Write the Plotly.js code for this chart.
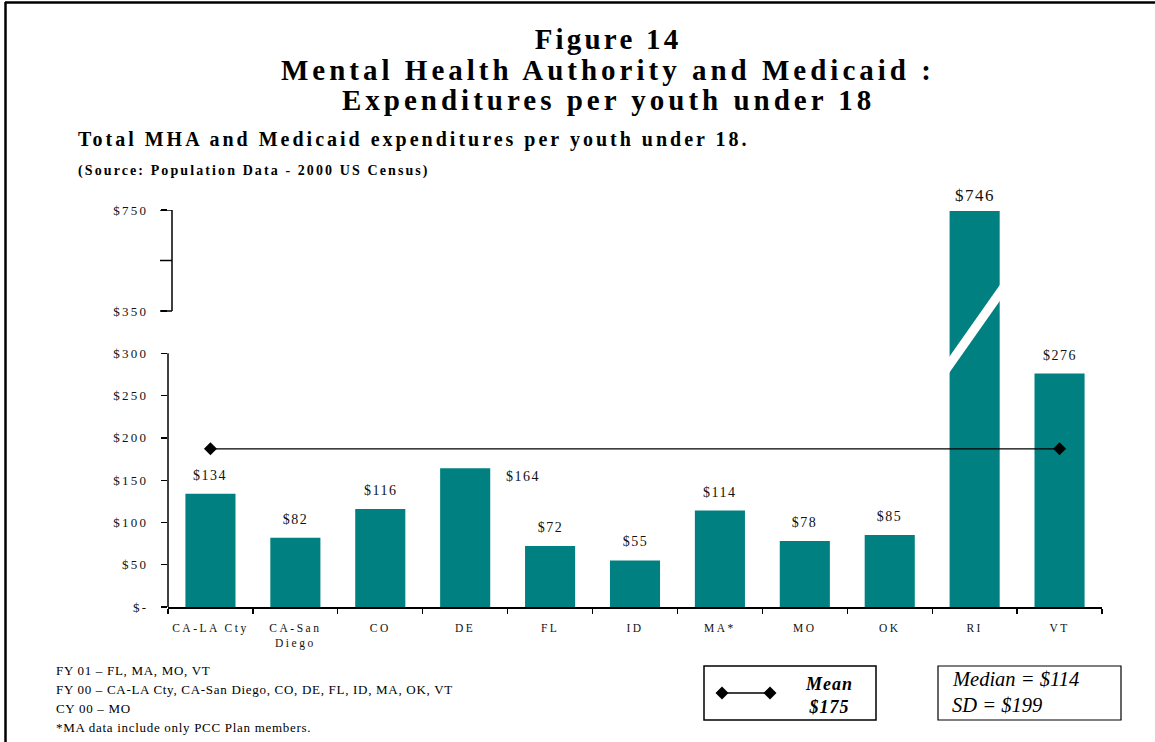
<!DOCTYPE html>
<html>
<head>
<meta charset="utf-8">
<script src="https://cdn.plot.ly/plotly-3.0.1.min.js"></script>
<style>
  html, body { margin: 0; padding: 0; background: #fff; }
  #chart { width: 1155px; height: 742px; }
  .xtick text { letter-spacing: 2.5px; }
  .ytick text { letter-spacing: 2.3px; }
  .gtitle { letter-spacing: 3.2px; }
</style>
</head>
<body>
<div id="chart"></div>
<script>
// ---------------- data ----------------
const categories = ['CA-LA Cty', 'CA-San Diego', 'CO', 'DE', 'FL', 'ID', 'MA*', 'MO', 'OK', 'RI', 'VT'];
const tickLabels = ['CA-LA Cty', 'CA-San<br>Diego', 'CO', 'DE', 'FL', 'ID', 'MA*', 'MO', 'OK', 'RI', 'VT'];
const expenditures = [134, 82, 116, 164, 72, 55, 114, 78, 85, 746, 276];
const meanLineLevel = [187, 187];          // level at which the mean line is drawn in the picture
const meanValue = 175;
const medianValue = 114;
const sdValue = 199;
const yTickValues = [0, 50, 100, 150, 200, 250, 300, 350, 550, 750];
const yTickLabels = ['$-', '$50', '$100', '$150', '$200', '$250', '$300', '$350', '', '$750'];
const footnotes = [
  'FY 01 \u2013 FL, MA, MO, VT',
  'FY 00 \u2013 CA-LA Cty, CA-San Diego, CO, DE, FL, ID, MA, OK, VT',
  'CY 00 \u2013 MO',
  '*MA data include only PCC Plan members.'
];
const titleText = 'Figure 14';
const titleLines = ['Mental Health Authority and Medicaid :', 'Expenditures per youth under 18'];
const subtitleText = 'Total MHA and Medicaid expenditures per youth under 18.';
const sourceText = '(Source: Population Data - 2000 US Census)';

// ---------------- broken axis scale ----------------
const breakAt = 350;
const upperScale = 0.2986;   // compression of the axis above the break
const brk = v => v <= breakAt ? v : breakAt + (v - breakAt) * upperScale;

// ---------------- geometry helpers ----------------
const W = 1155, H = 742;
const fx = px => px / W;
const fy = py => 1 - py / H;
const SERIF = 'Liberation Serif, Times New Roman, serif';
const TEAL = '#008080';
const xDom = [fx(168), fx(1102)];
const catX = i => xDom[0] + (i + 0.5) / categories.length * (xDom[1] - xDom[0]);

// ---------------- traces ----------------
const bars = {
  type: 'bar',
  x: categories,
  y: expenditures.map(brk),
  marker: { color: TEAL, line: { width: 0 } },
  hoverinfo: 'skip',
  showlegend: false
};
const meanTrace = {
  type: 'scatter',
  mode: 'lines+markers',
  x: [categories[0], categories[categories.length - 1]],
  y: meanLineLevel.map(brk),
  line: { color: '#000', width: 1.3 },
  marker: { symbol: 'diamond', size: 10, color: '#000' },
  cliponaxis: false,
  hoverinfo: 'skip',
  showlegend: false
};
const meanKey = {
  type: 'scatter',
  mode: 'lines+markers',
  x: [0, 1],
  y: [0.5, 0.5],
  xaxis: 'x2',
  yaxis: 'y2',
  cliponaxis: false,
  line: { color: '#000', width: 1.3 },
  marker: { symbol: 'diamond', size: 10, color: '#000' },
  hoverinfo: 'skip',
  showlegend: false
};

// ---------------- annotations ----------------
const annotations = [];
const spacing = [];
function addAnn(a, ls) { annotations.push(a); spacing.push(ls); }

const labelStyle = {
  'DE': { xshift: 58, yshift: -8, yanchor: 'middle' },
  'RI': { size: 17, yshift: 4 }
};
expenditures.forEach((v, i) => {
  const s = labelStyle[categories[i]] || {};
  addAnn({
    x: categories[i], y: brk(v), xref: 'x', yref: 'y',
    text: '$' + v, showarrow: false,
    xanchor: 'center', yanchor: s.yanchor || 'bottom',
    xshift: s.xshift || 0, yshift: s.yshift !== undefined ? s.yshift : 9,
    font: { family: SERIF, size: s.size || 14, color: '#111' }
  }, 1.5);
});

titleLines.forEach((t, k) => {
  addAnn({
    x: fx(608), y: fy(70 + 30 * k), xref: 'paper', yref: 'paper',
    text: t, showarrow: false, xanchor: 'center', yanchor: 'middle',
    font: { family: SERIF, size: 29, color: '#000', weight: 700 }
  }, 4);
});
addAnn({
  x: fx(76), y: fy(140), xref: 'paper', yref: 'paper', align: 'left',
  text: subtitleText, showarrow: false, xanchor: 'left', yanchor: 'middle',
  font: { family: SERIF, size: 20, color: '#000', weight: 700 }
}, 3.0);
addAnn({
  x: fx(76), y: fy(171), xref: 'paper', yref: 'paper', align: 'left',
  text: sourceText, showarrow: false, xanchor: 'left', yanchor: 'middle',
  font: { family: SERIF, size: 14, color: '#000', weight: 700 }
}, 2.1);
footnotes.forEach((t, k) => {
  addAnn({
    x: fx(54), y: fy(670 + 19 * k), xref: 'paper', yref: 'paper', align: 'left',
    text: t, showarrow: false, xanchor: 'left', yanchor: 'middle',
    font: { family: SERIF, size: 13, color: '#000' }
  }, 0.7);
});
addAnn({
  x: fx(829), y: fy(695), xref: 'paper', yref: 'paper',
  text: 'Mean<br>$' + meanValue, showarrow: false, xanchor: 'center', yanchor: 'middle',
  font: { family: SERIF, size: 18, color: '#000', weight: 700, style: 'italic' }
}, 1);
addAnn({
  x: fx(950), y: fy(679), xref: 'paper', yref: 'paper', align: 'left',
  text: 'Median = $' + medianValue, showarrow: false,
  xanchor: 'left', yanchor: 'middle',
  font: { family: SERIF, size: 20.5, color: '#000', style: 'italic' }
}, 0);
addAnn({
  x: fx(950), y: fy(705), xref: 'paper', yref: 'paper', align: 'left',
  text: 'SD = $' + sdValue, showarrow: false,
  xanchor: 'left', yanchor: 'middle',
  font: { family: SERIF, size: 20.5, color: '#000', style: 'italic' }
}, 0);

// ---------------- shapes ----------------
const riIndex = categories.indexOf('RI');
const slashC = brk(breakAt) - 21, slashRise = 50, slashHalf = 9.5, slashW = 0.35;
const riL = catX(riIndex - slashW), riR = catX(riIndex + slashW);
const yPix = d => 607 - d * (397 / brk(750));   // only for converting to paper
const py = d => fy(yPix(d));

const shapes = [
  // outer frame
  { type: 'line', xref: 'paper', yref: 'paper', x0: fx(5), x1: 1, y0: fy(2.5), y1: fy(2.5), line: { color: '#000', width: 2.5 } },
  { type: 'line', xref: 'paper', yref: 'paper', x0: fx(5.5), x1: fx(5.5), y0: fy(2), y1: 0, line: { color: '#000', width: 2.5 } },
  // lower y axis line
  { type: 'line', xref: 'paper', yref: 'y', x0: fx(168), x1: fx(168), y0: 0, y1: brk(300), line: { color: '#000', width: 1.5 } },
  // upper bracket
  { type: 'line', xref: 'paper', yref: 'y', x0: fx(172), x1: fx(172), y0: brk(350), y1: brk(750), line: { color: '#000', width: 1.5 } },
  { type: 'line', xref: 'paper', yref: 'y', x0: fx(160), x1: fx(172), y0: brk(350), y1: brk(350), line: { color: '#000', width: 1.5 } },
  { type: 'line', xref: 'paper', yref: 'y', x0: fx(160), x1: fx(172), y0: brk(550), y1: brk(550), line: { color: '#000', width: 1.5 } },
  { type: 'line', xref: 'paper', yref: 'y', x0: fx(160), x1: fx(172), y0: brk(750), y1: brk(750), line: { color: '#000', width: 1.5 } },
  // break slash through RI bar
  { type: 'path', xref: 'paper', yref: 'paper', fillcolor: '#fff', line: { width: 0 },
    path: `M ${riL} ${py(slashC - slashRise - slashHalf)} L ${riR} ${py(slashC + slashRise - slashHalf)} L ${riR} ${py(slashC + slashRise + slashHalf)} L ${riL} ${py(slashC - slashRise + slashHalf)} Z` },
  // legend boxes
  { type: 'rect', xref: 'paper', yref: 'paper', x0: fx(704), x1: fx(876), y0: fy(720), y1: fy(666), line: { color: '#000', width: 1.5 } },
  { type: 'rect', xref: 'paper', yref: 'paper', x0: fx(938), x1: fx(1121), y0: fy(720), y1: fy(666), line: { color: '#000', width: 1.2 } }
];

// ---------------- layout ----------------
const layout = {
  width: W, height: H,
  margin: { l: 0, r: 0, t: 0, b: 0 },
  paper_bgcolor: '#fff', plot_bgcolor: 'rgba(0,0,0,0)',
  title: {
    text: titleText, xref: 'paper', yref: 'paper', x: fx(608), y: fy(39),
    xanchor: 'center', yanchor: 'middle',
    font: { family: SERIF, size: 29, color: '#000', weight: 700 }
  },
  bargap: 0.41,
  xaxis: {
    domain: xDom, type: 'category', range: [-0.5, categories.length - 0.5], autorange: false,
    tickvals: categories, ticktext: tickLabels,
    showline: true, linecolor: '#000', linewidth: 1.5,
    ticks: 'outside', tickson: 'boundaries', ticklen: 5, tickcolor: '#000', tickwidth: 1.3,
    ticklabelstandoff: 10,
    showgrid: false, zeroline: false, fixedrange: true,
    tickfont: { family: SERIF, size: 11.5, color: '#111' }
  },
  yaxis: {
    domain: [fy(607), fy(210)], range: [0, brk(750)], autorange: false,
    tickvals: yTickValues.map(brk), ticktext: yTickLabels,
    ticks: 'outside', ticklen: 6, tickcolor: '#000', tickwidth: 1.3,
    ticklabelstandoff: 10,
    showline: false, showgrid: false, zeroline: false, fixedrange: true,
    tickfont: { family: SERIF, size: 13, color: '#111' }
  },
  xaxis2: { domain: [fx(722), fx(770)], anchor: 'y2', range: [0, 1], visible: false, fixedrange: true },
  yaxis2: { domain: [fy(700), fy(686)], anchor: 'x2', range: [0, 1], visible: false, fixedrange: true },
  shapes: shapes,
  annotations: annotations,
  showlegend: false
};

Plotly.newPlot('chart', [bars, meanTrace, meanKey], layout, { displayModeBar: false, staticPlot: true }).then(gd => {
  gd.querySelectorAll('g.annotation').forEach(g => {
    const ls = spacing[+g.getAttribute('data-index')];
    if (ls) g.querySelectorAll('text').forEach(t => t.style.letterSpacing = ls + 'px');
  });
});
</script>
</body>
</html>
